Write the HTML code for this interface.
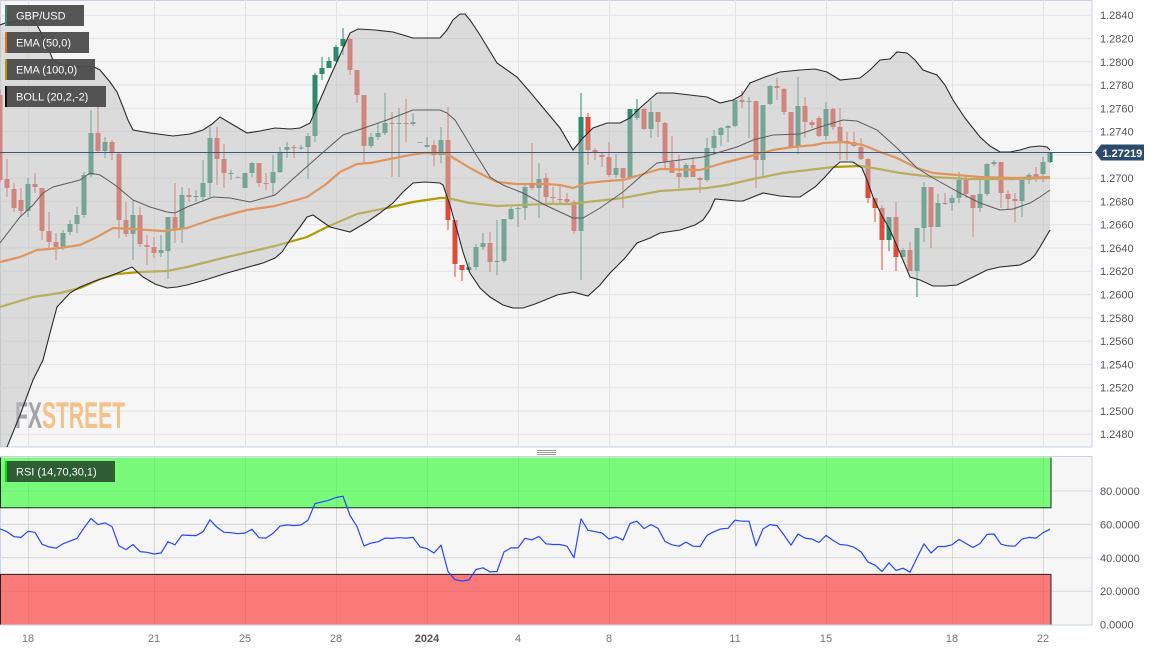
<!DOCTYPE html>
<html><head><meta charset="utf-8">
<style>
html,body{margin:0;padding:0;background:#fff;}
body{width:1163px;height:651px;overflow:hidden;}
svg{display:block;font-family:"Liberation Sans",Arial,sans-serif;}
.yl{font-size:11px;fill:#555;}
.xl{font-size:11px;fill:#777;text-anchor:middle;}
.lg{font-size:11px;fill:#fff;}
</style></head>
<body>
<svg id="s" width="1163" height="651" viewBox="0 0 1163 651" xmlns="http://www.w3.org/2000/svg">
<defs>
<clipPath id="cm"><rect x="0" y="0" width="1092" height="447"/></clipPath>
<clipPath id="cr"><rect x="0" y="457" width="1092" height="168"/></clipPath>
</defs>
<!-- main panel -->
<rect x="0.5" y="0.5" width="1091.5" height="446.5" fill="#f6f6f6" stroke="#c9d1e3"/>
<g id="grid" stroke="#e3e3e3" stroke-width="1"></g>
<!-- watermark -->
<text x="15" y="428" font-size="37" font-weight="bold" fill="#a3a4ab" textLength="27" lengthAdjust="spacingAndGlyphs">FX</text>
<text x="42" y="428" font-size="37" font-weight="bold" fill="#f3c189" textLength="83" lengthAdjust="spacingAndGlyphs">STREET</text>
<g id="main" clip-path="url(#cm)"></g>
<!-- legends -->
<g opacity="0.94">
<rect x="5" y="5" width="79" height="21" fill="#4b4b4b"/><rect x="5" y="5" width="2" height="21" fill="#2b8a6e"/>
<rect x="5" y="32" width="84" height="21" fill="#4b4b4b"/><rect x="5" y="32" width="2" height="21" fill="#ee6a10"/>
<rect x="5" y="59" width="90" height="21" fill="#4b4b4b"/><rect x="5" y="59" width="2" height="21" fill="#a89a00"/>
<rect x="5" y="86" width="101" height="21" fill="#4b4b4b"/><rect x="5" y="86" width="2" height="21" fill="#000"/>
</g>
<text class="lg" x="16" y="19.5">GBP/USD</text>
<text class="lg" x="16" y="46.5">EMA (50,0)</text>
<text class="lg" x="16" y="73.5">EMA (100,0)</text>
<text class="lg" x="16" y="100.5">BOLL (20,2,-2)</text>
<!-- right axis -->
<g class="yl">
<text x="1100" y="19">1.2840</text>
<text x="1100" y="42.5">1.2820</text>
<text x="1100" y="65.8">1.2800</text>
<text x="1100" y="89">1.2780</text>
<text x="1100" y="112.3">1.2760</text>
<text x="1100" y="135.6">1.2740</text>
<text x="1100" y="182.1">1.2700</text>
<text x="1100" y="205.4">1.2680</text>
<text x="1100" y="228.7">1.2660</text>
<text x="1100" y="252">1.2640</text>
<text x="1100" y="275.2">1.2620</text>
<text x="1100" y="298.5">1.2600</text>
<text x="1100" y="321.8">1.2580</text>
<text x="1100" y="345.1">1.2560</text>
<text x="1100" y="368.4">1.2540</text>
<text x="1100" y="391.6">1.2520</text>
<text x="1100" y="414.9">1.2500</text>
<text x="1100" y="438.2">1.2480</text>
</g>
<polygon points="1095,152.5 1101,144.5 1144,144.5 1144,160.5 1101,160.5" fill="#2c4a6c"/>
<text x="1102.5" y="156.8" font-size="11" font-weight="bold" fill="#fff">1.27219</text>
<!-- separator handle -->
<g stroke="#999" stroke-width="1">
<line x1="537" y1="450.5" x2="556" y2="450.5"/>
<line x1="537" y1="452.5" x2="556" y2="452.5"/>
<line x1="537" y1="454.5" x2="556" y2="454.5"/>
</g>
<!-- RSI panel -->
<rect x="0.5" y="456.5" width="1091.5" height="168.5" fill="#f6f6f6" stroke="#c9d1e3"/>
<g id="rgrid" stroke="#e3e3e3" stroke-width="1"></g>
<rect x="0" y="457.5" width="1051" height="50.2" fill="#7afa7a"/>
<rect x="0" y="574.4" width="1051" height="50.1" fill="#fa7a7a"/>
<g id="rgrid2" stroke="rgba(0,0,0,0.05)" stroke-width="1"></g>
<g stroke="#222" stroke-width="1" fill="none">
<polyline points="0.5,457.5 0.5,507.7 1051,507.7 1051,457.5"/>
<polyline points="0.5,624.5 0.5,574.4 1051,574.4 1051,624.5"/>
</g>
<g id="rsi" clip-path="url(#cr)"></g>
<rect x="5" y="461" width="110" height="21" fill="#2f5e34"/><rect x="5" y="461" width="2" height="21" fill="#00e400"/>
<text class="lg" x="16" y="475.5">RSI (14,70,30,1)</text>
<g class="yl">
<text x="1100" y="495">80.0000</text>
<text x="1100" y="528.4">60.0000</text>
<text x="1100" y="561.8">40.0000</text>
<text x="1100" y="595.2">20.0000</text>
<text x="1100" y="628.5">0.0000</text>
</g>
<!-- x axis -->
<g class="xl">
<text x="28" y="642">18</text>
<text x="154" y="642">21</text>
<text x="245" y="642">25</text>
<text x="336" y="642">28</text>
<text x="427" y="642" font-weight="bold" fill="#555">2024</text>
<text x="518" y="642">4</text>
<text x="609" y="642">8</text>
<text x="735" y="642">11</text>
<text x="826" y="642">15</text>
<text x="952" y="642">18</text>
<text x="1043" y="642">22</text>
</g>
</svg>
<script>
(function(){
var VX=[28,154,245,336,427,518,609,735,826,952,1043];
var g='';
for(var i=0;i<19;i++){var y=(15.2+23.28*i).toFixed(1);g+='<line x1="0" y1="'+y+'" x2="1092" y2="'+y+'"/>';}
VX.forEach(function(x){g+='<line x1="'+(x+0.5)+'" y1="0" x2="'+(x+0.5)+'" y2="447"/>';});
document.getElementById('grid').innerHTML=g;
var rg='';
[491,524.4,557.8,591.2].forEach(function(y){rg+='<line x1="0" y1="'+y+'" x2="1092" y2="'+y+'"/>';});
VX.forEach(function(x){rg+='<line x1="'+(x+0.5)+'" y1="457" x2="'+(x+0.5)+'" y2="625"/>';});
document.getElementById('rgrid').innerHTML=rg;
document.getElementById('rgrid2').innerHTML=rg;

var C=[[95,180,90,182],[179,188,159,197],[189,208,183,212],[200,211,188,217],[211,184,178,217],[184,187,173,193],[188,231,188,240],[231,242,212,250],[242,247,233,260],[247,233,230,250],
[232,224,220,235],[224,215,207,233],[215,175,172,218],[175,133,110,177],[133,151,106,153],[151,142,137,158],[142,153,140,160],[154,220,152,238],[220,234,202,237],[234,215,200,260],
[215,244,207,247],[245,247,235,265],[247,253,237,258],[253,250,235,257],[251,217,217,279],[217,229,183,243],[229,195,187,243],[195,197,188,202],[197,196,190,202],[197,183,160,202],
[183,138,127,197],[138,159,127,185],[159,173,144,188],[174,173,170,180],[177,177.5,176,178],[188,173,173,188],[173,163,162,177],[163,183,163,187],[183,184,173,190],[183,172,155,195],
[172,152,147,173],[150,147,142,158],[147,148,145,158],[148.5,147.5,145,150],[147,136,133,179],[136,75,73,142],[74,68,57,80],[68,61,57,68],[61,47,45,62],[46,39,28,55],
[39,70,38,75],[70,95,70,103],[95,146,95,163],[146,137,133,148],[137,133,123,140],[133,123,93,135],[123,124,112,177],[124,123,108,177],[123,124,99,142],[124,122,113,126],
[142,142.5,142,143],[147,145,137,148],[145,155,140,166],[155,140,127,163],[140,220,107,230],[220,264,220,277],[265,270,265,281],[270,267,262,272],[267,247,244,270],[247,243,233,250],
[243,262,232,272],[262,261,220,275],[261,219,219,263],[219,209,207,220],[209,208,207,227],[208,187,185,220],[185,188,143,190],[188,179,163,218],[178,197,173,203],[197,198,187,203],
[199,200,185,203],[199,202,193,205],[202,231,200,234],[231,117,93,280],[117,150,113,165],[150,153,148,160],[155,157,152,167],[157,175,142,177],[175,168,154,178],[168,178,168,208],
[178,109,109,180],[118,109,99,120],[109,129,108,130],[129,112,101,138],[112,122,112,137],[123,162,122,168],[162,173,136,173],[173,177,155,188],[177,165,163,178],[165,177,157,177],
[178,180,177,193],[180,148,138,182],[148,136,130,155],[135,128,127,146],[128,126,125,142],[126,100,100,127],[100,102,91,108],[102,101,97,138],[101,160,101,188],[160,105,105,177],
[104,86,85,105],[86,88,78,100],[89,112,88,115],[112,147,112,147],[147,106,77,154],[106,122,97,138],[122,125,120,128],[118,136,116,137],[136,109,102,140],[109,127,108,130],
[127,141,108,160],[141,142,132,160],[142,146,132,147],[147,159,138,160],[159,198,158,203],[198,208,198,222],[208,240,205,270],[240,217,217,251],[217,257,202,271],[257,250,248,257],
[250,271,242,271],[271,228,228,297],[228,187,182,242],[187,227,187,248],[227,203,194,227],[203,204,193,205],[203,198,195,211],[198,180,172,203],[180,194,177,198],[195,208,195,237],
[208,194,176,212],[194,164,163,196],[164,162,160,166],[162,193,162,208],[194,199,190,210],[199,201,193,222],[201,180,178,217],[180,175,173,184],[174,178,167,182],[174,162,157,182],[162,153,152,163]];

var s='';
C.forEach(function(d,k){
  var x=7*k,o=d[0],c=d[1],h=d[2],l=d[3];
  var col=(Math.abs(o-c)<1)?'#8a8a8a':(c<o?'#2b8a6e':'#e04a3a');
  var top=Math.min(o,c,h),bot=Math.max(o,c,l);
  s+='<rect x="'+(x-0.5)+'" y="'+top+'" width="1" height="'+(bot-top)+'" fill="'+col+'"/>';
  var by=Math.min(o,c),bh=Math.max(1,Math.abs(o-c));
  s+='<rect x="'+(x-2.5)+'" y="'+by+'" width="5" height="'+bh+'" fill="'+col+'"/>';
});
function P(a){return a.map(function(p){return p[0]+','+p[1];}).join(' ');}
var ema50=[[0,262],[20,257],[37,250],[60,248],[80,245],[97,237],[113,228],[133,229],[163,231],[187,228],[213,219],[247,210],[275,206],[307,197],[325,185],[340,172],[357,164],[370,163],[390,159],[410,155],[423,153],[443,153],[450,156],[457,160],[470,168],[485,176],[497,182],[517,184],[545,184],[560,185],[573,188],[587,183],[607,181],[623,180],[640,175],[660,169],[700,170],[723,163],[747,157],[773,150],[793,147],[815,145],[823,143],[843,142],[863,145],[880,152],[897,158],[917,168],[933,173],[957,175],[980,177],[1013,178],[1050,177]];
var ema100=[[0,307],[33,297],[60,293],[80,288],[100,279],[117,274],[140,272],[167,271],[187,267],[227,257],[275,246],[307,237],[327,227],[357,214],[387,208],[413,202],[440,198],[447,198],[470,203],[497,206],[545,204],[573,204],[587,202],[623,198],[660,191],[707,188],[727,185],[753,179],[783,173],[800,171],[833,167],[860,166],[873,168],[900,173],[933,177],[967,179],[1013,179],[1050,178]];
var up=[[0,25],[5,23],[20,21],[33,21],[37,25],[45,40],[53,60],[60,64],[80,67],[92,66],[100,70],[110,82],[117,92],[123,107],[128,120],[133,130],[150,133],[173,136],[190,134],[203,130],[212,124],[220,117],[230,123],[247,133],[260,131],[275,128],[290,129],[300,128],[310,123],[320,100],[330,77],[340,55],[350,33],[358,29],[375,30],[393,32],[413,38],[440,38],[447,30],[453,20],[460,14],[465,14],[470,20],[480,35],[497,63],[517,77],[530,92],[545,110],[560,128],[573,150],[583,138],[593,128],[607,123],[620,123],[630,118],[640,108],[657,93],[673,93],[690,95],[707,97],[720,103],[733,100],[742,95],[750,83],[765,77],[780,72],[800,70],[815,69],[827,72],[840,80],[860,78],[870,70],[880,60],[890,59],[897,52],[907,53],[915,60],[923,70],[937,75],[945,85],[953,100],[965,118],[980,137],[990,146],[1000,152],[1010,152],[1020,150],[1030,147],[1040,146],[1047,147],[1050,150]];
var lo=[[0,480],[7,447],[20,415],[33,380],[43,360],[50,333],[57,307],[70,293],[80,287],[95,281],[107,277],[120,272],[132,267],[143,277],[155,284],[167,288],[177,287],[187,285],[205,280],[227,273],[245,268],[263,263],[275,258],[282,252],[290,240],[300,227],[307,217],[313,215],[320,220],[330,227],[350,232],[367,222],[380,213],[393,203],[403,192],[413,183],[425,182],[440,183],[443,185],[450,205],[457,230],[463,252],[470,273],[480,288],[490,297],[503,305],[513,308],[523,308],[535,304],[545,300],[557,295],[573,292],[588,296],[600,285],[610,273],[625,258],[637,243],[650,238],[660,233],[680,230],[695,225],[703,220],[710,210],[715,199],[737,201],[743,201],[763,193],[780,196],[793,197],[800,197],[815,187],[825,177],[833,168],[840,162],[853,162],[862,168],[867,180],[873,197],[880,212],[890,230],[900,253],[910,277],[920,280],[933,286],[945,286],[957,285],[967,280],[987,270],[1000,267],[1020,265],[1030,260],[1035,255],[1040,247],[1050,230]];
var mid=[[0,243],[20,217],[33,205],[43,193],[53,187],[80,180],[90,173],[100,175],[115,185],[133,200],[150,207],[167,212],[175,213],[187,207],[213,197],[230,198],[250,202],[275,195],[303,170],[320,155],[343,135],[367,127],[387,120],[413,110],[440,110],[447,113],[455,120],[463,133],[475,153],[490,177],[503,185],[523,193],[545,205],[560,212],[573,218],[583,218],[600,208],[623,192],[640,177],[657,163],[680,160],[703,157],[720,152],[737,147],[753,140],[773,135],[800,134],[820,127],[843,120],[857,121],[877,130],[897,148],[917,168],[933,178],[960,193],[980,203],[1000,210],[1013,209],[1030,203],[1040,197],[1050,190]];
s+='<polyline points="'+P(ema100)+'" fill="none" stroke="#b09c00" stroke-width="2.2" stroke-linejoin="round"/>';
s+='<polyline points="'+P(ema50)+'" fill="none" stroke="#ff6a00" stroke-width="2.2" stroke-linejoin="round"/>';
s+='<polygon points="'+P(up.concat(lo.slice().reverse()))+'" fill="rgb(192,192,192)" fill-opacity="0.5"/>';
s+='<polyline points="'+P(mid)+'" fill="none" stroke="#5c5c5c" stroke-width="1"/>';
s+='<polyline points="'+P(up)+'" fill="none" stroke="#2a2a2a" stroke-width="1.1"/>';
s+='<polyline points="'+P(lo)+'" fill="none" stroke="#2a2a2a" stroke-width="1.1"/>';
s+='<line x1="0" y1="152.5" x2="1092" y2="152.5" stroke="#3d5679" stroke-width="1"/>';
document.getElementById('main').innerHTML=s;

var rz=[130,138,153,155,137,140,175,183,187,174,166,158,127,99,117,112,123,180,191,176,197,199,204,201,168,177,148,149,150,138,103,125,140,141,144,142,131,156,157,143,122,118,120,118,104,55,50,45,37,33,90,123,180,172,168,157,158,156,157,155,183,188,201,178,256,280,284,281,250,245,257,256,198,186,186,158,162,152,174,176,176,181,215,100,134,138,142,160,153,163,114,107,129,117,128,167,177,181,169,181,182,149,138,130,128,104,107,107,180,130,117,120,148,178,145,157,160,170,149,164,176,178,184,198,228,237,256,230,253,246,258,215,174,201,182,182,177,161,173,185,173,146,145,175,180,181,160,155,157,141,131];
var rp=rz.map(function(v,k){return [7*k,(485+v/2.958).toFixed(1)];});
document.getElementById('rsi').innerHTML='<polyline points="'+P(rp)+'" fill="none" stroke="#2845ff" stroke-width="1.2" stroke-linejoin="round"/>';
})();
</script>
</body></html>
